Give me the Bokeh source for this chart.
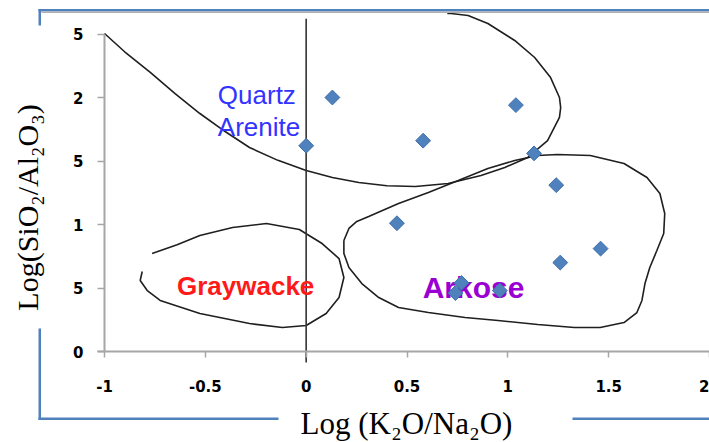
import numpy as np
from bokeh.plotting import figure
from bokeh.models import Range1d, FixedTicker, BoxAnnotation, Label
from bokeh.core.properties import value
from bokeh.embed import file_html
from bokeh.resources import INLINE

# Sample compositions: log(K2O/Na2O) against log(SiO2/Al2O3)
sample_x = [0.00, 0.13, 0.58, 1.04, 1.13, 1.24, 0.45, 1.46, 1.26, 0.96, 0.74, 0.77]
sample_y = [1.62, 2.00, 1.66, 1.94, 1.56, 1.31, 1.01, 0.81, 0.70, 0.48, 0.46, 0.54]

x_ticks = [-1, -0.5, 0, 0.5, 1, 1.5, 2]
x_tick_labels = ["-1", "-0.5", "0", "0.5", "1", "1.5", "2"]
y_ticks = [0, 0.5, 1, 1.5, 2, 2.5]
y_tick_labels = ["0", "5", "1", "5", "2", "5"]

# Field boundaries (hand-drawn outlines)
quartz_x = [-1.00, -0.90, -0.773, -0.65, -0.527, -0.40, -0.281, -0.14, 0.00, 0.13, 0.261,
            0.40, 0.542, 0.704, 0.867, 0.985, 1.099, 1.197, 1.256, 1.262, 1.256, 1.212,
            1.133, 1.034, 0.901, 0.803, 0.719, 0.70]
quartz_y = [2.504, 2.36, 2.197, 2.03, 1.874, 1.73, 1.606, 1.505, 1.425, 1.37, 1.331,
            1.305, 1.299, 1.323, 1.386, 1.449, 1.528, 1.661, 1.843, 1.92, 2.000, 2.157,
            2.315, 2.449, 2.583, 2.646, 2.661, 2.661]

graywacke_x = [-0.764, -0.640, -0.527, -0.365, -0.197, -0.034, 0.079, 0.163, 0.187, 0.163,
               0.099, 0.000, -0.118, -0.281, -0.527, -0.724, -0.788, -0.823, -0.813]
graywacke_y = [0.772, 0.840, 0.913, 0.976, 1.008, 0.961, 0.850, 0.732, 0.583, 0.425,
               0.299, 0.205, 0.189, 0.220, 0.299, 0.402, 0.480, 0.559, 0.630]

arkose_x = [0.187, 0.212, 0.251, 0.310, 0.458, 0.606, 0.754, 0.901, 1.034, 1.148, 1.246,
            1.409, 1.576, 1.690, 1.754, 1.778, 1.773, 1.739, 1.704, 1.680, 1.665, 1.640,
            1.576, 1.458, 1.330, 1.148, 0.951, 0.788, 0.606, 0.458, 0.360, 0.276, 0.212,
            0.187, 0.187]
arkose_y = [0.874, 0.969, 1.024, 1.063, 1.165, 1.252, 1.346, 1.441, 1.504, 1.543, 1.551,
            1.543, 1.480, 1.370, 1.244, 1.087, 0.929, 0.795, 0.661, 0.535, 0.402, 0.307,
            0.228, 0.189, 0.189, 0.213, 0.244, 0.268, 0.307, 0.346, 0.425, 0.535, 0.661,
            0.772, 0.874]

# Zero reference line for log(K2O/Na2O)
zero_line_x = [0, 0]
zero_line_y = [-0.087, 2.62]

W, H = 709, 442
# The plotting frame fills the canvas; axes sit at x = -1 and y = 0 inside it.
px_per_x = (W - 104) / 3.0
px_per_y = 127.0
x_start = -1 - 104 / px_per_x
y_start = -(H - 351) / px_per_y
y_end = 351 / px_per_y

p = figure(width=W, height=H, x_range=Range1d(x_start, 2.0), y_range=Range1d(y_start, y_end),
           output_backend="svg", toolbar_location=None,
           min_border_left=0, min_border_right=0, min_border_top=0, min_border_bottom=0)
p.outline_line_color = None
p.grid.visible = False
p.background_fill_color = "white"
p.border_fill_color = "white"

for ax in (p.xaxis[0], p.yaxis[0]):
    ax.axis_line_color = "#a6a6a6"
    ax.axis_line_width = 2
    ax.major_tick_line_color = "#a6a6a6"
    ax.major_tick_line_width = 1.5
    ax.major_tick_in = 0
    ax.minor_tick_line_color = None
    ax.major_label_text_font = "DejaVu Sans"
    ax.major_label_text_font_style = "bold"
    ax.major_label_text_font_size = "15px"
    ax.major_label_text_color = "black"

p.xaxis.fixed_location = 0
p.xaxis.bounds = (-1.035, 2.0)
p.xaxis.ticker = FixedTicker(ticks=x_ticks)
p.xaxis.major_label_overrides = dict(zip(x_ticks, x_tick_labels))
p.xaxis.major_tick_out = 6
p.xaxis.major_label_standoff = 22

p.yaxis.fixed_location = -1
p.yaxis.bounds = (0, 2.5)
p.yaxis.ticker = FixedTicker(ticks=y_ticks)
p.yaxis.major_label_overrides = dict(zip(y_ticks, y_tick_labels))
p.yaxis.major_tick_out = 7
p.yaxis.major_label_standoff = 14

# Field outlines
outline = dict(line_color="#1f1f1f", line_width=1.6)
p.line(quartz_x, quartz_y, **outline)
p.line(graywacke_x, graywacke_y, **outline)
p.line(arkose_x, arkose_y, **outline)
p.line(zero_line_x, zero_line_y, line_color="#333333", line_width=1.6)

# Field names
p.text(x=[-0.438, -0.438], y=[2.016, 1.764], text=["Quartz", "Arenite"],
       text_font=value("Liberation Sans"), text_font_size="26px",
       text_color="#3333FF", text_align="left", text_baseline="alphabetic")
p.text(x=[-0.300], y=[0.512], text=["Graywacke"],
       text_font=value("Liberation Sans"), text_font_style="bold", text_font_size="26px",
       text_color="#FF1A1A", text_align="center", text_baseline="alphabetic")
p.text(x=[0.830], y=[0.504], text=["Arkose"],
       text_font=value("Liberation Sans"), text_font_style="bold", text_font_size="30px",
       text_color="#9B00D3", text_align="center", text_baseline="alphabetic")

# Samples, drawn above the field names
p.scatter(sample_x, sample_y, marker="square", size=10.5, angle=np.pi / 4,
          fill_color="#4F81BD", line_color="#3F6FA8", line_width=1)

# Axis titles (canvas pixels, measured from the top-left corner)
p.add_layout(Label(x=406, y=423, x_units="canvas", y_units="canvas",
                   text="Log (K\u2082O/Na\u2082O)", text_font="Liberation Serif",
                   text_font_size="31px", text_color="black",
                   text_align="center", text_baseline="middle"))
p.add_layout(Label(x=27, y=207, x_units="canvas", y_units="canvas", angle=np.pi / 2,
                   text="Log(SiO\u2082/Al\u2082O\u2083)", text_font="Liberation Serif",
                   text_font_size="30px", text_color="black",
                   text_align="center", text_baseline="middle"))

# Blue page frame around the chart (canvas pixels, measured from the top)
def bar(left, right, top, bottom, color):
    p.add_layout(BoxAnnotation(left=left, right=right, top=top, bottom=bottom,
                               left_units="canvas", right_units="canvas",
                               top_units="canvas", bottom_units="canvas",
                               fill_color=color, fill_alpha=1.0, line_alpha=0.0,
                               level="overlay"))

bar(38, 709, 8.5, 11, "#4F81BD")
bar(41, 709, 11, 12.5, "#B0B0B0")
bar(38, 40.5, 8.5, 25, "#4F81BD")
bar(38, 40.5, 328, 419.5, "#4F81BD")
bar(38, 278, 417, 419.5, "#4F81BD")
bar(572, 709, 417, 419.5, "#4F81BD")

open("out.html", "w").write(file_html(p, INLINE))
